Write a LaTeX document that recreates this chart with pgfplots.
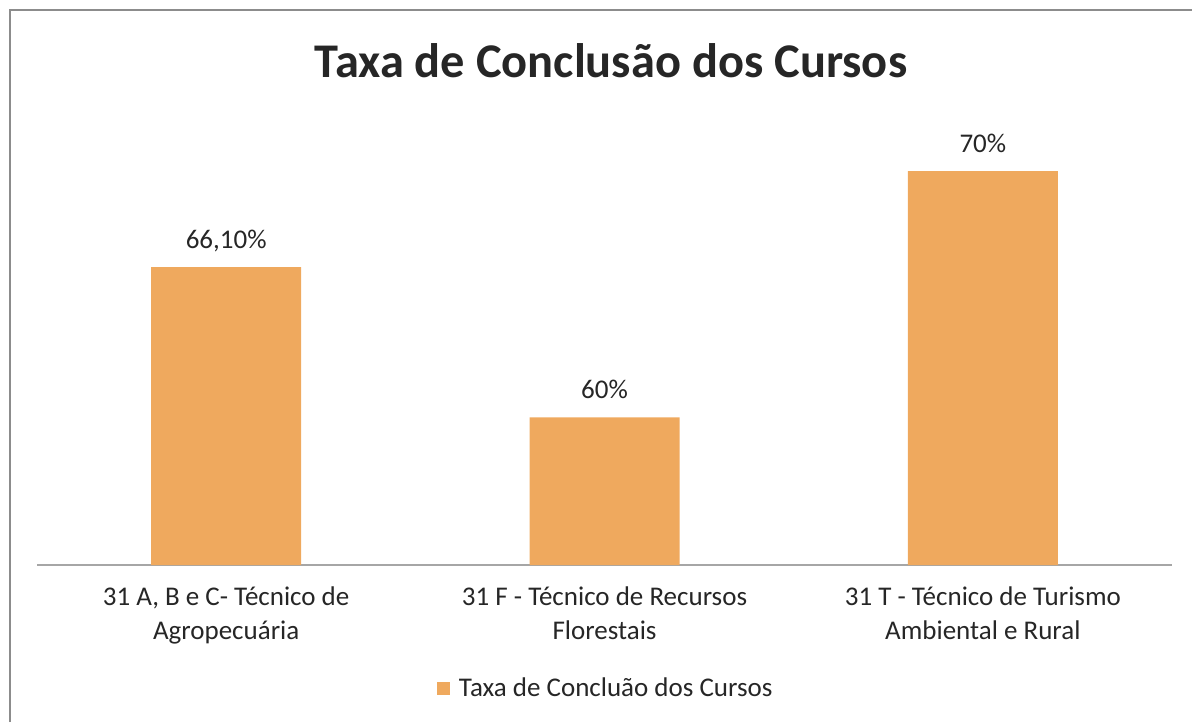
\documentclass[border=0pt]{standalone}
\usepackage{pgfplots}
\pgfplotsset{compat=1.18}
\usepackage{fontspec}
\setmainfont{Carlito}
\definecolor{barorange}{HTML}{EFA95E}
\definecolor{txt}{HTML}{262626}
\definecolor{axgray}{HTML}{A6A6A6}
\begin{document}
\begin{tikzpicture}
\useasboundingbox (0,0) rectangle (596pt,361pt);
\draw[color=black!45, line width=0.8pt] (5pt,0) -- (5pt,356pt) -- (596pt,356pt);
\node[anchor=base, font=\fontsize{24.2}{28}\selectfont\bfseries, text=txt] at (305.5pt,322pt) {Taxa de Conclusão dos Cursos};
\begin{axis}[
  at={(18.5pt,78.5pt)}, anchor=south west,
  scale only axis, width=567.5pt, height=221.5pt,
  ymin=54, ymax=72, xmin=-0.5, xmax=2.5,
  axis y line=none,
  axis x line*=bottom,
  x axis line style={axgray, line width=0.8pt, -},
  xtick=data, major tick length=0pt,
  xticklabels={{31 A, B e C- Técnico de\\Agropecuária},{31 F - Técnico de Recursos\\Florestais},{31 T - Técnico de Turismo\\Ambiental e Rural}},
  xticklabel style={align=center, font=\fontsize{13.5}{17}\selectfont, text=txt, yshift=-7.5pt},
  ybar, bar width=75pt,
  point meta=explicit symbolic,
  nodes near coords={\pgfplotspointmeta},
  nodes near coords style={font=\fontsize{13.5}{16.5}\selectfont, text=txt, anchor=base, yshift=9.5pt},
  legend style={at={(0.502,-0.278)}, anchor=center, draw=none, font=\fontsize{13.5}{16.5}\selectfont, text=txt, inner sep=1pt},
  legend image code/.code={\fill[barorange] (0pt,-3.25pt) rectangle (6.5pt,3.25pt); \path (9pt,0pt);},
  clip=false,
]
\addplot[fill=barorange, draw=none] table[meta=label] {
x y label
0 66.1 66,10\%
1 60 60\%
2 70 70\%
};
\addlegendentry{Taxa de Concluão dos Cursos}
\end{axis}
\end{tikzpicture}
\end{document}
